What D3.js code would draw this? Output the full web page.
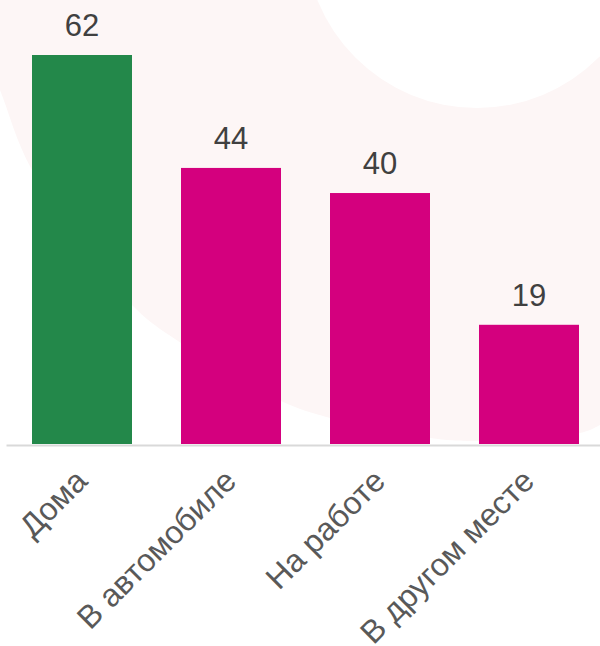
<!DOCTYPE html>
<html>
<head>
<meta charset="utf-8">
<script src="https://cdn.jsdelivr.net/npm/d3@7"></script>
<style>
  body { margin: 0; background: #fff; }
  svg { display: block; font-family: 'Liberation Sans', Arial, sans-serif; }
</style>
</head>
<body>
<svg></svg>
<script>
(function() {

  const categories = ['Дома', 'В автомобиле', 'На работе', 'В другом месте']
  const values = [62, 44, 40, 19]
  const highlighted = 'Дома'

  const backdropEdge = [[-20, 40], [0, 90], [32, 170], [132, 305], [181, 343], [281, 401],
                        [330, 418], [430, 438], [479, 441], [580, 433], [600, 425], [620, 412]]

  const svgWidth = 600
  const svgHeight = 646
  const baseline = 444

  const svg = d3.select('svg')
    .attr('width', svgWidth)
    .attr('height', svgHeight)

  const edge = d3.line().curve(d3.curveCatmullRom)
  svg.append('path')
    .attr('d', edge(backdropEdge) + 'L620,-20L-20,-20Z')
    .attr('fill', '#fdf6f6')

  svg.append('circle')
    .attr('cx', 477)
    .attr('cy', -64)
    .attr('r', 172)
    .attr('fill', '#ffffff')

  const x = d3.scaleBand()
    .domain(categories)
    .range([6, 605])
    .paddingInner(49 / 149)
    .paddingOuter(0.1745)

  const y = d3.scaleLinear()
    .domain([0, 62])
    .range([baseline, 55])

  const color = d => d === highlighted ? '#23884a' : '#d4007e'

  svg.selectAll('.bar')
    .data(categories)
    .enter()
    .append('rect')
    .classed('bar', true)
    .attr('x', d => x(d))
    .attr('width', x.bandwidth())
    .attr('y', (d, i) => y(values[i]))
    .attr('height', (d, i) => baseline - y(values[i]))
    .attr('fill', color)

  svg.selectAll('.value')
    .data(categories)
    .enter()
    .append('text')
    .classed('value', true)
    .attr('x', d => x(d) + x.bandwidth() / 2)
    .attr('y', (d, i) => y(values[i]) - 19)
    .attr('text-anchor', 'middle')
    .attr('font-size', 31)
    .attr('fill', '#404040')
    .text((d, i) => values[i])

  const axis = svg.append('g')
    .attr('transform', `translate(0,${baseline + 1})`)
    .call(d3.axisBottom(x).tickSize(0).tickSizeOuter(0))

  axis.select('.domain')
    .attr('stroke', '#d9d9d9')
    .attr('stroke-width', 2)

  axis.selectAll('.tick text')
    .attr('x', 0)
    .attr('y', 0)
    .attr('dy', 0)
    .attr('transform', 'translate(7,38) rotate(-45)')
    .attr('text-anchor', 'end')
    .attr('font-size', 32)
    .attr('font-family', "'Liberation Sans', Arial, sans-serif")
    .attr('fill', '#595959')

})()
</script>
</body>
</html>
